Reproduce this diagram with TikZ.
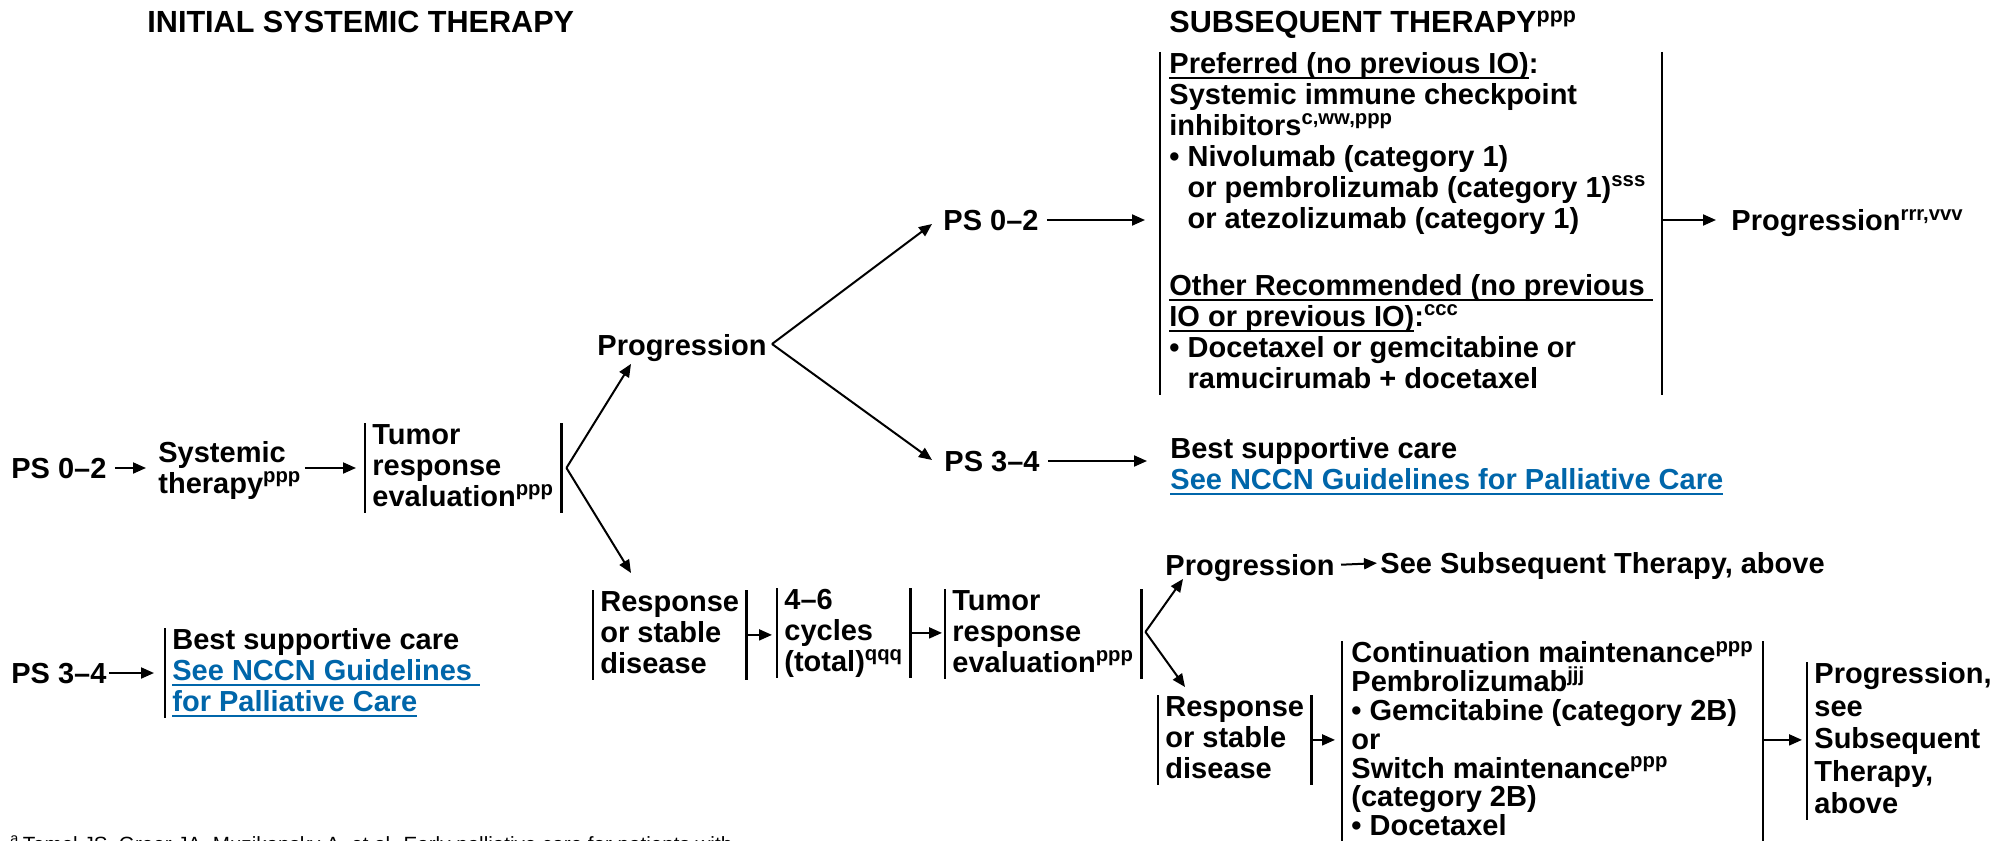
\documentclass[tikz,border=0pt]{standalone}
\usepackage{fontspec}
\setmainfont{Liberation Sans}
\usetikzlibrary{arrows.meta,calc}
\definecolor{nccnblue}{RGB}{0,102,170}
\newcommand\sps[1]{\textsuperscript{#1}}
\newcommand\ulx[1]{\setbox0=\hbox{#1}\rlap{\rule[-2.6pt]{\wd0}{0.9pt}}\box0}
\newcommand\lnk[1]{\textcolor{nccnblue}{\ulx{#1}}}
\newcommand\mystrut{\vrule width 0pt height 10.5pt depth 3pt\relax}
\newcommand\bodyfont[1]{\fontsize{14.5}{#1}\selectfont\bfseries\lineskiplimit=-100pt\relax}
\begin{document}
\begin{tikzpicture}[x=0.5pt,y=-0.5pt,
 every node/.style={inner sep=0pt, font=\bodyfont{15.5pt}},
 hdr/.style={font=\fontsize{15.3}{16}\selectfont\bfseries, anchor=base west},
 one/.style={anchor=west, text height=12pt, text depth=1.5pt},
 multi/.style={anchor=north west, align=left},
 brk/.style={anchor=north west, align=left, inner xsep=3.5pt},
 arr/.style={line width=1pt, -{Triangle[length=6.5pt,width=5.5pt]}},
 bar/.style={line width=1.1pt},
]
\useasboundingbox (0,0) rectangle (1990,840);
\fill[white] (0,0) rectangle (1990,840);
\clip (0,0) rectangle (1990,840);

% headers
\node[hdr] (h1) at (147,33) {INITIAL SYSTEMIC THERAPY};
\node[hdr] (h2) at (1169,33) {SUBSEQUENT THERAPY\sps{ppp}};

% initial column
\node[one] (ps02a) at (11,468) {PS 0–2};
\node[multi] (sys) at (158,441) {\mystrut Systemic\\therapy\sps{ppp}\mystrut};
\node[brk] (tre1) at (365,423) {\mystrut Tumor\\response\\evaluation\sps{ppp}\mystrut};
\node[one] (prog) at (597,345) {Progression};
\node[brk] (resp1) at (593,590) {\mystrut Response\\or stable\\disease\mystrut};
\node[brk] (cyc) at (777,588) {\mystrut 4–6\\cycles\\(total)\sps{qqq}\mystrut};
\node[brk] (tre2) at (945,589) {\mystrut Tumor\\response\\evaluation\sps{ppp}\mystrut};

\node[one] (ps34b) at (11,673) {PS 3–4};
\node[brk] (bsc2) at (165,628) {\mystrut Best supportive care\\\lnk{See NCCN Guidelines }\\\lnk{for Palliative Care}\mystrut};

% subsequent therapy
\node[one] (ps02b) at (943,220) {PS 0–2};
\node[one] (ps34a) at (944,461) {PS 3–4};
\node[brk, inner xsep=4.5pt] (sub) at (1160,52) {\mystrut\ulx{Preferred (no previous IO)}:\\
Systemic immune checkpoint\\
inhibitors\sps{c,ww,ppp}\\
• Nivolumab (category 1)\\
\hphantom{• }or pembrolizumab (category 1)\sps{sss}\\
\hphantom{• }or atezolizumab (category 1)\\[18pt]
\ulx{Other Recommended (no previous }\\
\ulx{IO or previous IO)}:\sps{ccc}\\
• Docetaxel or gemcitabine or\\
\hphantom{• }ramucirumab + docetaxel\mystrut};
\node[one] (prog1) at (1731,220) {Progression\sps{rrr,vvv}};
\node[multi] (bsc1) at (1170,437) {\mystrut Best supportive care\\\lnk{See NCCN Guidelines for Palliative Care}\mystrut};

% maintenance
\node[one] (prog2) at (1165,565) {Progression};
\node[one] (seeSub) at (1380,563) {See Subsequent Therapy, above};
\node[brk] (resp2) at (1158,695) {\mystrut Response\\or stable\\disease\mystrut};
\node[brk, inner xsep=4.5pt, font=\bodyfont{14.4pt}] (cont) at (1342,641) {\mystrut Continuation maintenance\sps{ppp}\\
Pembrolizumab\sps{jjj}\\
• Gemcitabine (category 2B)\\
or\\
Switch maintenance\sps{ppp}\\
(category 2B)\\
• Docetaxel\mystrut};
\node[brk, font=\bodyfont{16.3pt}] (progSee) at (1807,662) {\mystrut Progression,\\see\\Subsequent\\Therapy,\\above\mystrut};

% footnote (cut by the lower edge, as in the reference)
\node[anchor=base west, font=\fontsize{10.3}{12}\selectfont] (fn) at (10,851) {\textsuperscript{a}\,Temel JS, Greer JA, Muzikansky A, et al. Early palliative care for patients with};

% bars
\foreach \n in {tre1,resp1,cyc,tre2,resp2,sub} {
  \draw[bar] (\n.north west) -- (\n.south west) (\n.north east) -- (\n.south east);
}
\draw[bar] (cont.north west) -- ++(0,210) (cont.north east) -- ++(0,210);
\draw[bar] (bsc2.north west) -- (bsc2.south west);
\draw[bar] (progSee.north west) -- (progSee.south west);

% connectors
\draw[arr, shorten <=4pt, shorten >=6pt] (ps02a.east) -- (ps02a.east -| sys.west);
\draw[arr, shorten <=1.5pt, shorten >=4.5pt] (ps02a.east -| sys.east) -- (ps02a.east -| tre1.west);
\coordinate (v1) at ($(tre1.east)+(5,0)$);
\draw[arr] (v1) -- ($(prog.south west)+(34,5)$);
\draw[arr] (v1) -- ($(resp1.north west)+(38,-17)$);
\coordinate (v0) at ($(prog.east)+(5,-1)$);
\draw[arr] (v0) -- ($(ps02b.west)+(-11,4)$);
\draw[arr] (v0) -- ($(ps34a.west)+(-12,-1)$);
\draw[arr, shorten <=4pt, shorten >=7.5pt] (ps02b.east) -- (ps02b.east -| sub.west);
\draw[arr, shorten >=7.5pt] (prog1.west -| sub.east) -- (prog1.west);
\draw[arr, shorten <=4pt, shorten >=11.5pt] (ps34a.east) -- (ps34a.east -| bsc1.west);
\draw[arr, shorten >=2.5pt] (resp1.east) -- (resp1.east -| cyc.west);
\draw[arr, shorten >=1.5pt] (cyc.east) -- (cyc.east -| tre2.west);
\coordinate (v2) at ($(tre2.east)+(4,-2)$);
\draw[arr] (v2) -- ($(prog2.south west)+(18,0)$);
\draw[arr] (v2) -- ($(resp2.north west)+(27,-8)$);
\draw[arr, shorten <=3pt, shorten >=1.5pt] (prog2.east) -- (seeSub.west);
\draw[arr, shorten >=3.5pt] (resp2.east) -- (resp2.east -| cont.west);
\draw[arr, shorten >=2.5pt] (resp2.east -| cont.east) -- (resp2.east -| progSee.west);
\draw[arr, shorten <=1pt, shorten >=5.5pt] (ps34b.east) -- (ps34b.east -| bsc2.west);
\end{tikzpicture}
\end{document}
